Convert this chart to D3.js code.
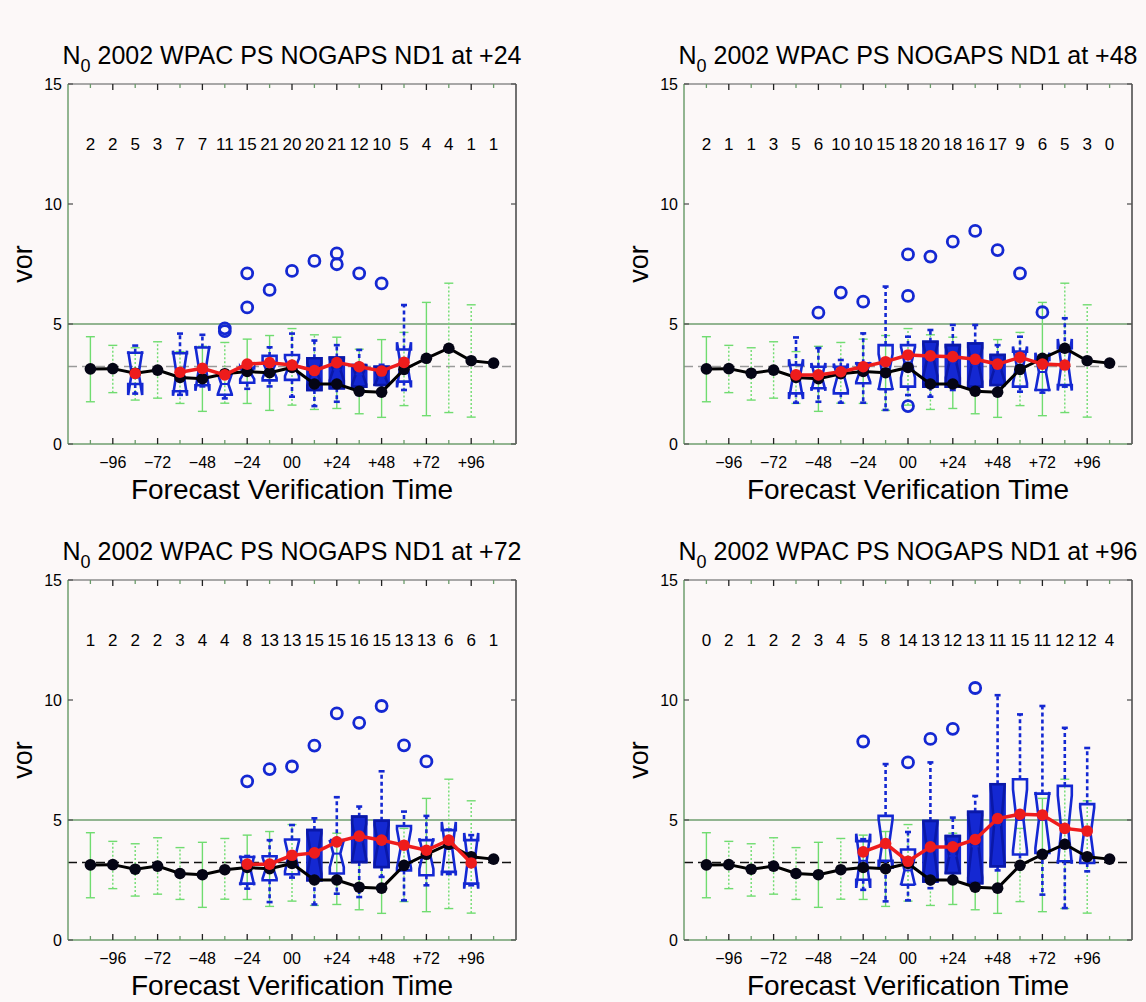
<!DOCTYPE html>
<html><head><meta charset="utf-8">
<script src="https://cdn.jsdelivr.net/npm/d3@7"></script>
<style>
body{margin:0;background:#fcf8f8}
svg{display:block}
text{font-family:"Liberation Sans",Arial,Helvetica,sans-serif}
</style>
</head><body>
<svg id="c" width="1146" height="1002"></svg>
<script>
// ---------------- DATA ----------------
const hours = [-108,-96,-84,-72,-60,-48,-36,-24,-12,0,12,24,36,48,60,72,84,96,108];
const tickHours = [-96,-72,-48,-24,0,24,48,72,96];
const tickLabels = ["\u221296","\u221272","\u221248","\u221224","00","+24","+48","+72","+96"];
const yTicks = [0,5,10,15];
const refLevel = 3.23;       // dashed reference line
const thresholdLevel = 5;    // solid line

// climatology (black line) and its spread (green bars), same in every panel
const blackLine = [3.13,3.14,2.95,3.08,2.77,2.72,2.93,3.02,2.97,3.19,2.5,2.5,2.2,2.16,3.11,3.57,3.99,3.47,3.37];
const greenLo = [1.76,2.14,1.83,1.91,1.69,1.36,1.70,1.69,1.40,1.62,1.44,1.48,1.26,1.11,1.60,1.18,1.31,1.12,null];
const greenHi = [4.47,4.11,4.01,4.26,3.85,4.07,4.23,4.37,4.52,4.81,4.55,4.45,3.95,4.35,4.65,5.90,6.70,5.80,null];

const leadTimes = ["+24","+48","+72","+96"];

const countsA = [2,2,5,3,7,7,11,15,21,20,20,21,12,10,5,4,4,1,1];
const countsB = [2,1,1,3,5,6,10,10,15,18,20,18,16,17,9,6,5,3,0];
const countsC = [1,2,2,2,3,4,4,8,13,13,15,15,16,15,13,13,6,6,1];
const countsD = [0,2,1,2,2,3,4,5,8,14,13,12,13,11,15,11,12,12,4];

// boxes: [hour, low whisker, q1, median, q3, high whisker]
const boxesA = [[-84,2.1,2.5,2.95,3.8,4.1],[-60,2.05,2.2,2.95,3.78,4.6],[-48,2.4,2.45,3.15,4.02,4.55],
  [-36,1.9,2.05,2.5,2.95,3.05],[-24,2.3,2.55,2.95,3.15,3.35],[-12,2.4,2.65,3.1,3.67,4.03],
  [0,1.97,2.67,3.2,3.71,4.6],[12,1.58,2.25,2.9,3.57,4.31],[24,1.76,2.32,3.1,3.6,4.12],
  [36,2.04,2.39,2.9,3.29,3.92],[48,2.18,2.46,2.8,3.22,3.3],[60,2.25,2.6,3.3,3.94,5.79]];
const boxesB = [[-60,1.72,2.11,2.7,3.29,4.44],[-48,1.76,2.32,2.8,3.22,4.0],[-36,1.72,2.11,2.8,3.22,3.5],
  [-24,1.72,2.53,3.0,3.36,4.61],[-12,1.42,2.28,3.0,4.12,6.56],[0,2.04,2.39,3.4,4.12,4.47],
  [12,1.97,2.39,3.5,4.26,4.75],[24,2.25,2.39,3.4,4.12,4.96],[36,2.2,2.39,3.3,4.19,4.96],
  [48,2.18,2.46,3.1,3.71,4.12],[60,2.18,2.39,3.3,3.85,4.47],[72,2.14,2.25,3.0,3.5,3.6],
  [84,2.39,2.46,3.3,3.99,5.24]];
const boxesC = [[-24,2.14,2.35,2.9,3.46,3.5],[-12,1.58,2.49,3.0,3.49,4.16],[0,2.6,2.74,3.5,4.19,4.79],
  [12,1.48,2.49,3.6,4.58,5.07],[24,1.93,2.77,3.6,4.16,5.95],[36,1.79,3.25,4.1,5.14,5.56],
  [48,2.63,3.04,4.0,4.97,7.03],[60,1.65,2.9,3.8,4.75,5.35],[72,2.28,2.7,3.6,4.16,5.17],
  [84,2.75,2.84,3.8,4.58,4.6],[96,2.28,2.35,3.3,4.16,4.37]];
const boxesD = [[-24,2.09,2.51,3.3,4.12,4.2],[-12,1.61,3.3,4.0,5.17,7.33],[0,1.65,2.3,2.9,3.77,4.5],
  [12,2.16,2.44,3.8,4.96,7.4],[24,2.5,2.79,3.5,4.33,5.1],[36,2.3,2.37,3.9,5.34,6.0],
  [48,2.9,3.07,4.8,6.49,10.2],[60,3.21,3.56,5.0,6.7,9.4],[72,1.89,3.63,5.0,6.1,9.75],
  [84,1.33,3.28,4.6,6.42,8.84],[96,2.86,3.21,4.4,5.66,8.0]];

// hours whose boxes look shaded in the original
const shadedA = [12,24,36,48];
const shadedB = [12,24,36,48];
const shadedC = [12,36,48];
const shadedD = [12,24,36,48];

// outliers: [hour, value]
const outA = [[-36,4.82],[-36,4.7],[-24,7.11],[-24,5.69],[-12,6.42],[0,7.21],[12,7.63],[24,7.94],[24,7.49],[36,7.11],[48,6.69]];
const outB = [[-48,5.47],[-36,6.31],[-24,5.93],[0,7.9],[0,6.17],[0,1.58],[12,7.81],[24,8.43],[36,8.88],[48,8.08],[60,7.11],[72,5.49]];
const outC = [[-24,6.61],[-12,7.12],[0,7.23],[12,8.1],[24,9.44],[36,9.05],[48,9.75],[60,8.11],[72,7.44]];
const outD = [[-24,8.27],[0,7.4],[12,8.38],[24,8.8],[36,10.5]];

// red line (mean of forecasts), null where not drawn
const redA = [null,null,2.94,null,2.99,3.15,2.88,3.33,3.39,3.29,3.06,3.39,3.22,3.04,3.4,null,null,null,null];
const redB = [null,null,null,null,2.88,2.88,3.01,3.22,3.43,3.71,3.67,3.64,3.53,3.33,3.61,3.33,3.29,null,null];
const redC = [null,null,null,null,null,null,null,3.16,3.16,3.53,3.63,4.09,4.33,4.16,3.95,3.74,4.16,3.21,null];
const redD = [null,null,null,null,null,null,null,3.67,4.02,3.28,3.88,3.88,4.19,5.06,5.24,5.21,4.65,4.54,null];

// ---------------- LAYOUT / STYLE ----------------
const panels = [
  {lead:leadTimes[0], counts:countsA, boxes:boxesA, shaded:shadedA, out:outA, red:redA, x0:68,  x1:516,  y0:84,  y1:444, refColor:"#9a9a9a"},
  {lead:leadTimes[1], counts:countsB, boxes:boxesB, shaded:shadedB, out:outB, red:redB, x0:684, x1:1132, y0:84,  y1:444, refColor:"#9a9a9a"},
  {lead:leadTimes[2], counts:countsC, boxes:boxesC, shaded:shadedC, out:outC, red:redC, x0:68,  x1:516,  y0:580, y1:940, refColor:"#111"},
  {lead:leadTimes[3], counts:countsD, boxes:boxesD, shaded:shadedD, out:outD, red:redD, x0:684, x1:1132, y0:580, y1:940, refColor:"#111"}
];
const greenDotted = [false,true,true,true,true,false,true,false,false,true,true,false,false,false,true,false,true,true,false];
const BLUE = "#1428d2", RED = "#ee1c1c", GREEN = "#70dc70";

const svg = d3.select("#c");
svg.append("rect").attr("width",1146).attr("height",1002).attr("fill","#fcf8f8");

panels.forEach(p => {
  const g = svg.append("g");
  const x = d3.scaleLinear().domain([-120,120]).range([p.x0,p.x1]);
  const y = d3.scaleLinear().domain([0,15]).range([p.y1,p.y0]);

  // reference lines
  g.append("line").attr("x1",p.x0).attr("x2",p.x1).attr("y1",y(thresholdLevel)).attr("y2",y(thresholdLevel))
    .attr("stroke","#6f9f6f").attr("stroke-width",1.5);
  g.append("line").attr("x1",p.x0).attr("x2",p.x1).attr("y1",y(refLevel)).attr("y2",y(refLevel))
    .attr("stroke",p.refColor).attr("stroke-width",1.6).attr("stroke-dasharray","9,5");

  // green spread bars
  hours.forEach((h,i) => {
    if (greenLo[i]==null) return;
    const gx = x(h);
    g.append("line").attr("x1",gx).attr("x2",gx).attr("y1",y(greenLo[i])).attr("y2",y(greenHi[i]))
      .attr("stroke",GREEN).attr("stroke-width",1.4).attr("stroke-dasharray",greenDotted[i]?"2,2":null);
    [greenLo[i],greenHi[i]].forEach(v => g.append("line").attr("x1",gx-4.5).attr("x2",gx+4.5)
      .attr("y1",y(v)).attr("y2",y(v)).attr("stroke",GREEN).attr("stroke-width",1.4));
  });

  // boxes
  const w = 7;
  p.boxes.forEach(b => {
    const [h,lo,q1,med,q3,hi] = b;
    const i = hours.indexOf(h);
    const n = p.counts[i];
    const bx = x(h);
    const notch = 1.57*(q3-q1)/Math.sqrt(n);
    const nh = med+notch, nl = med-notch;
    // whiskers
    [[q3,hi],[q1,lo]].forEach(([a,c]) => {
      g.append("line").attr("x1",bx).attr("x2",bx).attr("y1",y(a)).attr("y2",y(c))
        .attr("stroke",BLUE).attr("stroke-width",2.6).attr("stroke-dasharray","4,3");
      g.append("line").attr("x1",bx-3).attr("x2",bx+3).attr("y1",y(c)).attr("y2",y(c))
        .attr("stroke",BLUE).attr("stroke-width",2.6);
    });
    const shaded = p.shaded.includes(h);
    if (shaded) {
      g.append("rect").attr("x",bx-w).attr("width",2*w).attr("y",y(q3)).attr("height",y(q1)-y(q3))
        .attr("fill",BLUE).attr("stroke",BLUE).attr("stroke-width",2.6);
    }
    const pts = [[bx-w,y(q3)],[bx+w,y(q3)],[bx+w,y(nh)],[bx+w/2,y(med)],[bx+w,y(nl)],[bx+w,y(q1)],
                 [bx-w,y(q1)],[bx-w,y(nl)],[bx-w/2,y(med)],[bx-w,y(nh)]];
    g.append("path").attr("d","M"+pts.map(d=>d.join(",")).join("L")+"Z")
      .attr("fill","none").attr("stroke",shaded?"#0a18a8":BLUE).attr("stroke-width",2.6)
      .attr("stroke-linejoin","miter");
    g.append("line").attr("x1",bx-w/2).attr("x2",bx+w/2).attr("y1",y(med)).attr("y2",y(med))
      .attr("stroke",BLUE).attr("stroke-width",2);
  });

  // outliers
  p.out.forEach(o => g.append("circle").attr("cx",x(o[0])).attr("cy",y(o[1])).attr("r",5.5)
    .attr("fill","none").attr("stroke",BLUE).attr("stroke-width",2.8));

  // black line
  const line = d3.line().defined(d=>d[1]!=null).x(d=>x(d[0])).y(d=>y(d[1]));
  const bl = hours.map((h,i)=>[h,blackLine[i]]);
  g.append("path").attr("d",line(bl)).attr("fill","none").attr("stroke","#000").attr("stroke-width",3);
  bl.forEach(d => g.append("circle").attr("cx",x(d[0])).attr("cy",y(d[1])).attr("r",5.8).attr("fill","#050515"));

  // red line
  const rl = hours.map((h,i)=>[h,p.red[i]]);
  g.append("path").attr("d",line(rl)).attr("fill","none").attr("stroke",RED).attr("stroke-width",3.5);
  rl.filter(d=>d[1]!=null).forEach(d => g.append("circle").attr("cx",x(d[0])).attr("cy",y(d[1])).attr("r",5.8).attr("fill",RED));

  // counts
  hours.forEach((h,i) => g.append("text").attr("x",x(h)).attr("y",y(12.5)).attr("dy","0.35em")
    .attr("text-anchor","middle").attr("font-size",17).text(p.counts[i]));

  // frame
  g.append("line").attr("x1",p.x0).attr("x2",p.x1).attr("y1",p.y0).attr("y2",p.y0).attr("stroke","#8c8c8c").attr("stroke-width",1.3);
  g.append("line").attr("x1",p.x1).attr("x2",p.x1).attr("y1",p.y0).attr("y2",p.y1).attr("stroke","#444").attr("stroke-width",1.5);
  g.append("line").attr("x1",p.x0).attr("x2",p.x0).attr("y1",p.y0).attr("y2",p.y1).attr("stroke","#6f9f6f").attr("stroke-width",1.5);
  g.append("line").attr("x1",p.x0).attr("x2",p.x1).attr("y1",p.y1).attr("y2",p.y1).attr("stroke","#6f9f6f").attr("stroke-width",1.5);

  // x ticks (inward, top and bottom)
  hours.forEach(h => {
    const major = tickHours.includes(h);
    const len = major ? 6 : 4;
    const col = major ? "#222" : "#6a9a6a";
    g.append("line").attr("x1",x(h)).attr("x2",x(h)).attr("y1",p.y1).attr("y2",p.y1-len).attr("stroke",col).attr("stroke-width",1.3);
    g.append("line").attr("x1",x(h)).attr("x2",x(h)).attr("y1",p.y0).attr("y2",p.y0+len).attr("stroke",col).attr("stroke-width",1.3);
  });
  // y ticks
  yTicks.forEach(v => {
    g.append("line").attr("x1",p.x0).attr("x2",p.x0+5).attr("y1",y(v)).attr("y2",y(v)).attr("stroke","#555").attr("stroke-width",1.3);
    g.append("line").attr("x1",p.x1).attr("x2",p.x1-5).attr("y1",y(v)).attr("y2",y(v)).attr("stroke","#555").attr("stroke-width",1.3);
    g.append("text").attr("x",p.x0-6).attr("y",y(v)).attr("dy","0.36em").attr("text-anchor","end")
      .attr("font-size",16).text(v);
  });
  // x tick labels
  tickHours.forEach((h,i) => g.append("text").attr("x",x(h)).attr("y",p.y1+24).attr("text-anchor","middle")
    .attr("font-size",16).text(tickLabels[i]));
  // axis labels
  g.append("text").attr("x",(p.x0+p.x1)/2).attr("y",p.y1+55).attr("text-anchor","middle")
    .attr("font-size",28).text("Forecast Verification Time");
  g.append("text").attr("transform",`translate(${p.x0-36},${(p.y0+p.y1)/2}) rotate(-90)`)
    .attr("text-anchor","middle").attr("font-size",27).text("vor");
  // title
  const t = g.append("text").attr("x",(p.x0+p.x1)/2).attr("y",p.y0-20).attr("text-anchor","middle").attr("font-size",25);
  t.append("tspan").text("N");
  t.append("tspan").attr("font-size",18).attr("dy",8).text("0");
  t.append("tspan").attr("dy",-8).text(" 2002 WPAC PS NOGAPS ND1 at " + p.lead);
});
</script>
</body></html>
